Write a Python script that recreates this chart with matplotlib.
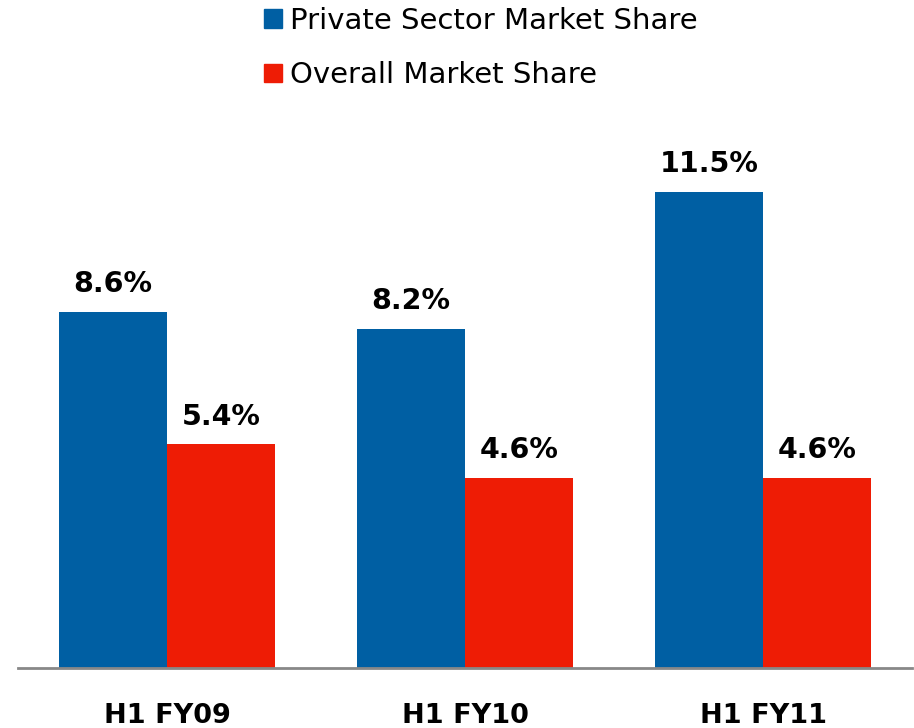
import numpy as np
import matplotlib.pyplot as plt
from matplotlib.patches import Patch

categories = ["H1 FY09", "H1 FY10", "H1 FY11"]
private_share = [8.6, 8.2, 11.5]
overall_share = [5.4, 4.6, 4.6]
series_names = ["Private Sector Market Share", "Overall Market Share"]
colors = ["#005FA3", "#EE1C05"]

W, H = 914, 728
fig = plt.figure(figsize=(W/100, H/100), dpi=100)
ax = fig.add_axes([18/W, 60/H, 894/W, 568/H])

x = np.arange(len(categories))
bw = 0.362
b1 = ax.bar(x - bw/2, private_share, bw, color=colors[0])
b2 = ax.bar(x + bw/2, overall_share, bw, color=colors[1])

for bars, vals in ((b1, private_share), (b2, overall_share)):
    for rect, v in zip(bars, vals):
        ax.annotate(f"{v:.1f}%", (rect.get_x() + rect.get_width()/2, v),
                    xytext=(0, 10), textcoords="offset points",
                    ha="center", va="bottom", fontsize=20.5, fontweight="bold")

ax.set_xlim(-0.5, 2.5)
ax.set_ylim(0, 568/41.4)
ax.set_xticks(x)
ax.set_xticklabels(categories, fontsize=19.5, fontweight="bold")
ax.tick_params(axis="x", length=0, pad=25)
ax.set_yticks([])
for s in ("top", "right", "left"):
    ax.spines[s].set_visible(False)
ax.spines["bottom"].set_color("#888888")
ax.spines["bottom"].set_linewidth(2)

handles = [Patch(color=c) for c in colors]
fig.legend(handles, series_names, loc="upper left",
           bbox_to_anchor=(264/W, 1 - 7/H), frameon=False,
           fontsize=21, handlelength=0.6, handleheight=0.6,
           handletextpad=0.3, labelspacing=0.9, borderpad=0, borderaxespad=0)

fig.savefig("out.png", dpi=100)
